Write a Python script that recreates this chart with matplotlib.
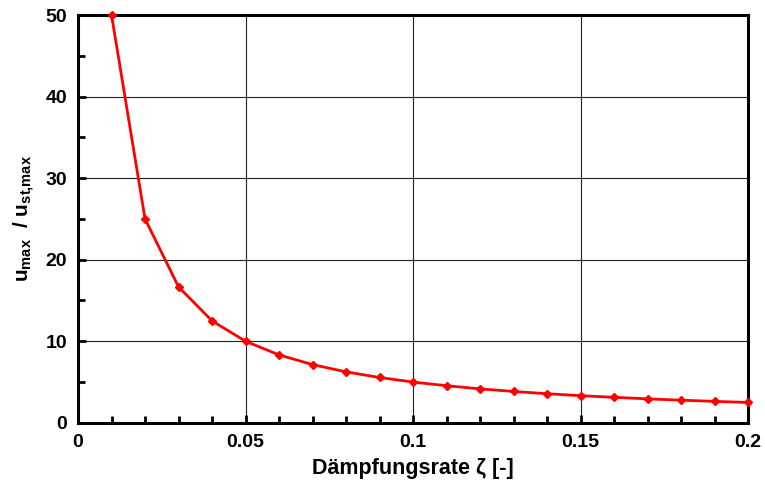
import matplotlib
matplotlib.use("Agg")
import matplotlib.pyplot as plt
from matplotlib.ticker import MultipleLocator

plt.rcParams['font.family'] = ['Liberation Sans', 'DejaVu Sans']
plt.rcParams['font.weight'] = 'bold'
plt.rcParams['mathtext.fontset'] = 'custom'
plt.rcParams['mathtext.bf'] = 'Liberation Sans:bold'
plt.rcParams['mathtext.rm'] = 'Liberation Sans:bold'
plt.rcParams['mathtext.it'] = 'Liberation Sans:bold'
plt.rcParams['mathtext.default'] = 'bf'

# damping ratio and amplification values
zeta = [0.01, 0.02, 0.03, 0.04, 0.05, 0.06, 0.07, 0.08, 0.09, 0.10,
        0.11, 0.12, 0.13, 0.14, 0.15, 0.16, 0.17, 0.18, 0.19, 0.20]
ratio = [50.0, 25.0, 16.67, 12.5, 10.0, 8.33, 7.14, 6.25, 5.56, 5.0,
         4.55, 4.17, 3.85, 3.57, 3.33, 3.13, 2.94, 2.78, 2.63, 2.5]

fig = plt.figure(figsize=(7.65, 5.01), dpi=100)
ax = fig.add_axes([0.102, 0.156, 0.876, 0.814])

ax.plot(zeta, ratio, color='#ff0000', lw=2, marker='D', ms=4.5,
        clip_on=False, zorder=5)

ax.set_xlim(0, 0.2)
ax.set_ylim(0, 50)
ax.xaxis.set_major_locator(MultipleLocator(0.05))
ax.xaxis.set_minor_locator(MultipleLocator(0.01))
ax.yaxis.set_major_locator(MultipleLocator(10))
ax.yaxis.set_minor_locator(MultipleLocator(5))
ax.set_xticks([0, 0.05, 0.1, 0.15, 0.2])
ax.set_xticklabels(['0', '0.05', '0.1', '0.15', '0.2'])

ax.grid(True, which='major', color='#222222', lw=0.8)
ax.tick_params(which='both', direction='in', width=2, labelsize=14, pad=8)
ax.tick_params(which='major', length=6)
ax.tick_params(which='minor', length=5)
for s in ax.spines.values():
    s.set_linewidth(2.2)

ax.set_xlabel('Dämpfungsrate ζ [-]', fontsize=15.5, fontweight='bold', labelpad=5)
ax.set_ylabel(r'$u_{max}$  / $u_{st{,}max}$', fontsize=15, fontweight='bold', labelpad=6)

fig.savefig('out.png', dpi=100)
